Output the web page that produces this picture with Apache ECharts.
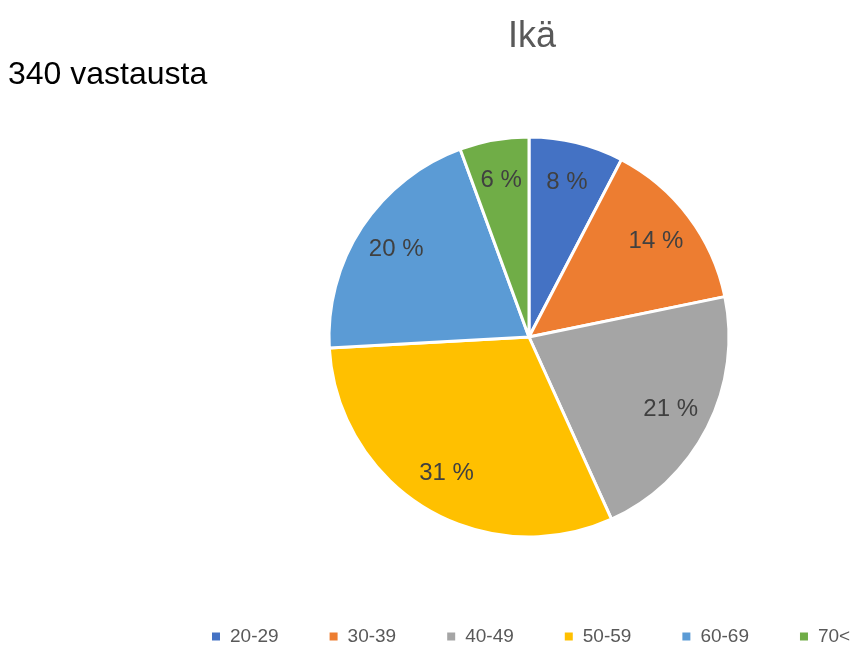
<!DOCTYPE html>
<html>
<head>
<meta charset="utf-8">
<script src="https://cdn.jsdelivr.net/npm/echarts@6/dist/echarts.min.js"></script>
<style>html,body{margin:0;padding:0;background:#fff;}#c{width:865px;height:647px;}</style>
</head>
<body>
<div id="c"></div>
<script>
const categories = ['20-29', '30-39', '40-49', '50-59', '60-69', '70<'];
const counts = [26, 48, 73, 105, 69, 19];
const colors = ['#4472C4', '#ED7D31', '#A5A5A5', '#FFC000', '#5B9BD5', '#70AD47'];
const titleText = 'Ikä';
const subText = '340 vastausta';

const chart = echarts.init(document.getElementById('c'));
const data = categories.map((n, i) => ({ name: n, value: counts[i] }));
const total = counts.reduce((a, b) => a + b, 0);

chart.setOption({
  animation: false,
  color: colors,
  title: {
    text: titleText,
    left: 527, top: 14, textAlign: 'center',
    textStyle: { fontFamily: 'Liberation Sans', fontSize: 36, fontWeight: 'normal', color: '#595959' }
  },
  graphic: [{
    type: 'text', left: 8, top: 59,
    style: { text: subText, fontFamily: 'Liberation Sans', fontSize: 32, fill: '#000' }
  }],
  legend: {
    data: categories,
    left: 205, top: 622, width: 1000,
    itemWidth: 10, itemHeight: 10, itemGap: 49,
    icon: 'rect',
    textStyle: { fontFamily: 'Liberation Sans', fontSize: 19, color: '#595959', padding: [0, 0, 0, 4] }
  },
  series: [{
    type: 'pie',
    center: [529, 337], radius: [0, 200],
    startAngle: 90, clockwise: true,
    itemStyle: { borderColor: '#fff', borderWidth: 3 },
    label: { show: false }, labelLine: { show: false },
    emphasis: { disabled: true },
    data: data
  }, {
    type: 'pie',
    center: [529, 337], radius: [112, 200],
    startAngle: 90, clockwise: true, silent: true,
    itemStyle: { color: 'rgba(0,0,0,0)', borderWidth: 0 },
    label: {
      show: true, position: 'inside',
      fontFamily: 'Liberation Sans', fontSize: 24, color: '#404040',
      formatter: p => Math.round(p.value / total * 100) + ' %'
    },
    labelLine: { show: false },
    emphasis: { disabled: true },
    data: data
  }]
});
</script>
</body>
</html>
